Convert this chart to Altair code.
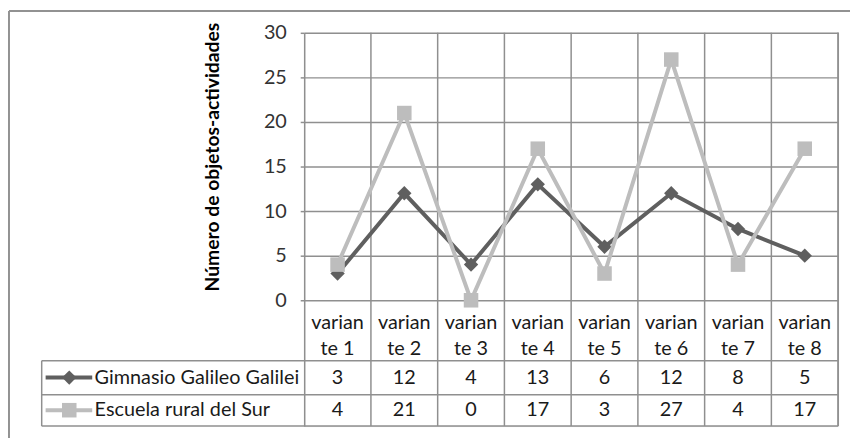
import altair as alt
import pandas as pd

# ---------------- data ----------------
categories = ["variante 1", "variante 2", "variante 3", "variante 4",
              "variante 5", "variante 6", "variante 7", "variante 8"]
gimnasio = [3, 12, 4, 13, 6, 12, 8, 5]
escuela = [4, 21, 0, 17, 3, 27, 4, 17]
series_names = ["Gimnasio Galileo Galilei", "Escuela rural del Sur"]
y_ticks = [0, 5, 10, 15, 20, 25, 30]
y_title = "Número de objetos-actividades"

# ---------------- layout ----------------
W, H = 539, 397
Y_MIN, Y_MAX = -14.11, 30
X_MIN, X_MAX = 0.5, 8.5
ROW_HEADER_Y = -2.55
ROW1_Y = -8.67
ROW2_Y = -12.33
ROW_LINES = [-6.78, -10.61, -14.11]
LEG_LEFT = -3.433
LEG_LINE_X1, LEG_LINE_X2, LEG_MARK_X, LEG_TEXT_X = -3.374, -2.676, -3.02, -2.64

DARK = "#5f5f5f"
LIGHT = "#bdbdbd"
GRID = "#8f8f8f"
FONT = "Lato"
FS = 20

idx = list(range(1, len(categories) + 1))

long_rows = []
for i, c, g, e in zip(idx, categories, gimnasio, escuela):
    long_rows.append({"idx": i, "cat": c, "value": g, "series": series_names[0]})
    long_rows.append({"idx": i, "cat": c, "value": e, "series": series_names[1]})
df = pd.DataFrame(long_rows)

xs = alt.Scale(domain=[X_MIN, X_MAX], nice=False, zero=False)
ys = alt.Scale(domain=[Y_MIN, Y_MAX], nice=False, zero=False)

y_axis = alt.Axis(values=y_ticks, grid=True, gridColor=GRID, gridWidth=1.5,
                  domainColor=GRID, domainWidth=1.5, tickColor=GRID, tickWidth=1.5,
                  tickSize=4, labelFontSize=FS, labelColor="#333333", labelFont=FONT,
                  labelPadding=14, title=y_title, titleFont=FONT, titleFontSize=19.5,
                  titleFontWeight="bold", titleColor="#000000", titleAngle=270,
                  titleX=-93, titleY=125, titleAlign="center", titleBaseline="middle")


def X(f="idx"):
    return alt.X(f"{f}:Q", scale=xs, axis=None)


def Y(f):
    return alt.Y(f"{f}:Q", scale=ys, axis=y_axis, title=y_title)


# table structure
vlines = pd.DataFrame({"bx": [i + 0.5 for i in idx]})
vline_layer = alt.Chart(vlines).mark_rule(color=GRID, strokeWidth=1.5).encode(
    x=X("bx"), y=alt.value(0), y2=alt.value(H))

hl = pd.DataFrame({"hy": ROW_LINES, "x1": [LEG_LEFT] * 3, "x2": [X_MAX] * 3})
hline_layer = alt.Chart(hl).mark_rule(color=GRID, strokeWidth=1.5).encode(
    x=X("x1"), x2="x2:Q", y=Y("hy"))

lv = pd.DataFrame({"lx": [LEG_LEFT], "y1": [ROW_LINES[0]], "y2": [ROW_LINES[2]]})
lvline_layer = alt.Chart(lv).mark_rule(color=GRID, strokeWidth=1.5).encode(
    x=X("lx"), y=Y("y1"), y2="y2:Q")


# series
def series_layers(name, color, shape, size):
    d = df[df.series == name]
    line = alt.Chart(d).mark_line(color=color, strokeWidth=4).encode(
        x=X(), y=Y("value"))
    pts = alt.Chart(d).mark_point(shape=shape, filled=True, color=color, size=size,
                                  opacity=1).encode(x=X(), y=Y("value"))
    return [line, pts]


layers_g = series_layers(series_names[0], DARK, "diamond", 210)
layers_e = series_layers(series_names[1], LIGHT, "square", 215)

# table text
hdr = pd.DataFrame({"idx": idx, "ty": [ROW_HEADER_Y] * len(idx),
                    "txt": [c[:6] + "\n" + c[6:] for c in categories]})
vals = pd.DataFrame({
    "idx": idx * 2,
    "ty": [ROW1_Y] * len(idx) + [ROW2_Y] * len(idx),
    "txt": [str(v) for v in gimnasio] + [str(v) for v in escuela]})
text_kw = dict(font=FONT, fontSize=FS, color="#1a1a1a", baseline="middle", align="center")
hdr_layer = alt.Chart(hdr).mark_text(lineBreak="\n", lineHeight=26, **text_kw).encode(
    x=X(), y=Y("ty"), text="txt:N")
val_layer = alt.Chart(vals).mark_text(**text_kw).encode(
    x=X(), y=Y("ty"), text="txt:N")

# legend keys in table
leg = pd.DataFrame({"series": series_names, "ly": [ROW1_Y, ROW2_Y],
                    "x1": [LEG_LINE_X1] * 2, "x2": [LEG_LINE_X2] * 2,
                    "mx": [LEG_MARK_X] * 2, "tx": [LEG_TEXT_X] * 2})
col_scale = alt.Scale(domain=series_names, range=[DARK, LIGHT])
leg_line = alt.Chart(leg).mark_rule(strokeWidth=4).encode(
    x=X("x1"), x2="x2:Q", y=Y("ly"),
    color=alt.Color("series:N", scale=col_scale, legend=None))
leg_pts = alt.Chart(leg).mark_point(filled=True, opacity=1).encode(
    x=X("mx"), y=Y("ly"),
    color=alt.Color("series:N", scale=col_scale, legend=None),
    shape=alt.Shape("series:N", scale=alt.Scale(domain=series_names, range=["diamond", "square"]), legend=None),
    size=alt.Size("series:N", scale=alt.Scale(domain=series_names, range=[210, 215]), legend=None))
leg_text = alt.Chart(leg).mark_text(font=FONT, fontSize=FS, color="#1a1a1a",
                                    baseline="middle", align="left").encode(
    x=X("tx"), y=Y("ly"), text="series:N")

# outer frame (top and left edges) and right border of the plot/table
one = alt.Data(values=[{}])
frame_top = alt.Chart(one).mark_rule(color="#929292", strokeWidth=2).encode(
    x=alt.value(-298), x2=alt.value(W + 20), y=alt.value(-22))
frame_left = alt.Chart(one).mark_rule(color="#929292", strokeWidth=2).encode(
    x=alt.value(-298), y=alt.value(-22), y2=alt.value(H + 20))
right_border = alt.Chart(one).mark_rule(color=GRID, strokeWidth=1.5).encode(
    x=alt.value(W), y=alt.value(0), y2=alt.value(H))

chart = alt.layer(
    vline_layer, right_border, hline_layer, lvline_layer,
    *layers_g, *layers_e,
    hdr_layer, val_layer, leg_line, leg_pts, leg_text,
    frame_top, frame_left,
).properties(
    width=W, height=H,
    autosize=alt.AutoSizeParams(type="none"),
    padding={"left": 299, "top": 23, "right": 12, "bottom": 10},
).configure_view(stroke=None).configure(background="white")

chart.save("out.html", embed_options={"renderer": "svg", "actions": False})
